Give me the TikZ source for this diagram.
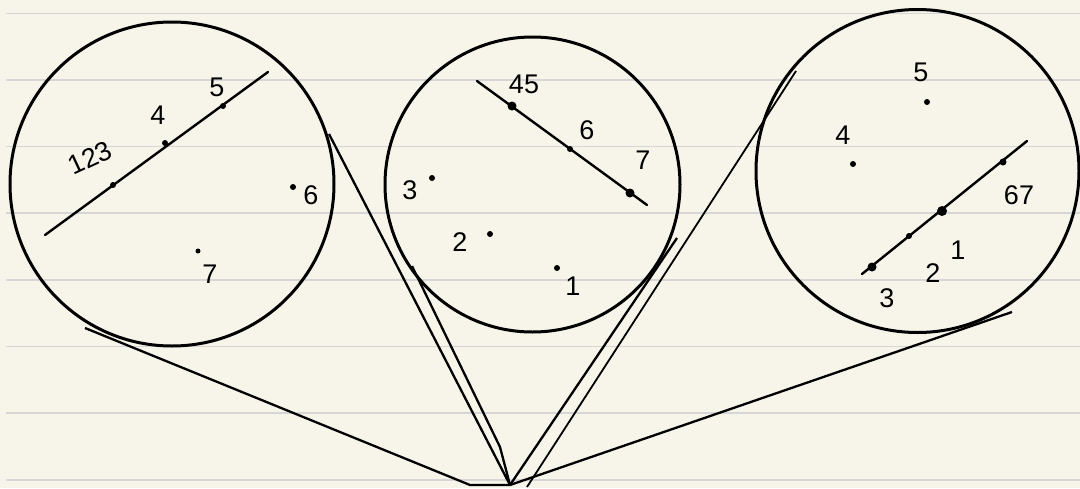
\documentclass[tikz,border=0pt]{standalone}
\usepackage{fontspec}
\setmainfont{Liberation Sans}
\definecolor{paper}{RGB}{247,245,234}
\definecolor{rule}{RGB}{214,214,214}
\begin{document}
\begin{tikzpicture}[x=1pt,y=-1pt,
  ring/.style={circle,draw=black,line width=3pt,inner sep=0pt},
  dot/.style={circle,fill=black,inner sep=0pt,minimum size=6pt},
  bigdot/.style={circle,fill=black,inner sep=0pt,minimum size=9pt},
  lbl/.style={inner sep=0pt,font=\fontsize{27}{29}\selectfont},
  chord/.style={draw=black,line width=2.4pt,line cap=round},
  conn/.style={draw=black,line width=2.3pt,line join=round},
  thinconn/.style={draw=black,line width=1.8pt},
  ruling/.style={draw=rule,line width=1.8pt}]
\useasboundingbox (0,0) rectangle (1080,488);
\fill[paper] (0,0) rectangle (1080,488);
\foreach \y in {13.5,80,146.5,213,280,346.5,413,480}
  \draw[ruling] (6,\y) -- (1080,\y);

% circles
\node[ring,minimum size=324pt] (c1) at (172,184) {};
\node[ring,minimum size=295pt] (c2) at (532.5,184.5) {};
\node[ring,minimum size=323pt] (c3) at (917.5,171) {};

% circle 1
\coordinate (a1) at (45,235);
\coordinate (b1) at (268,72);
\draw[chord] (a1) -- (b1);
\node[dot] (p13) at (113,185) {};
\node[dot] (p14) at (165,143) {};
\node[dot] (p15) at (223,106) {};
\node[dot] (p16) at (293,187) {};
\node[dot,minimum size=5pt] (p17) at (198,251) {};
\node[lbl,rotate=25] (t13) at (90,158) {123};
\node[lbl] (t14) at (158,115) {4};
\node[lbl] (t15) at (217,87) {5};
\node[lbl] (t16) at (311,195) {6};
\node[lbl] (t17) at (210,274) {7};

% circle 2
\coordinate (a2) at (477,81);
\coordinate (b2) at (647,205);
\draw[chord] (a2) -- (b2);
\node[bigdot] (p245) at (512,106) {};
\node[dot] (p26) at (570,149) {};
\node[bigdot] (p27) at (630,193) {};
\node[dot] (p23) at (432,178) {};
\node[dot] (p22) at (490,234) {};
\node[dot] (p21) at (557,268) {};
\node[lbl] (t245) at (524,84) {45};
\node[lbl] (t26) at (587,130) {6};
\node[lbl] (t27) at (643,160) {7};
\node[lbl] (t23) at (410,190) {3};
\node[lbl] (t22) at (460,242) {2};
\node[lbl] (t21) at (573,286) {1};

% circle 3
\coordinate (a3) at (862,274);
\coordinate (b3) at (1027,141);
\draw[chord] (a3) -- (b3);
\node[bigdot] (p33) at (872,267) {};
\node[dot] (p32) at (909,236) {};
\node[bigdot,minimum size=10pt] (p31) at (942,211) {};
\node[dot,minimum size=7pt] (p367) at (1003,162) {};
\node[dot] (p35) at (927,102) {};
\node[dot] (p34) at (853,164) {};
\node[lbl] (t35) at (921,72) {5};
\node[lbl] (t34) at (843,135) {4};
\node[lbl] (t367) at (1019,195) {67};
\node[lbl] (t31) at (958,250) {1};
\node[lbl] (t32) at (933,273) {2};
\node[lbl] (t33) at (887,298) {3};

% connectors to the apex
\coordinate (apex) at (510,485);
\coordinate (s1) at (85,328);
\coordinate (k1) at (470,485);
\coordinate (s2) at (329,134);
\coordinate (s3) at (412,266);
\coordinate (k3) at (500,447);
\coordinate (s4) at (677,238);
\coordinate (s5) at (796,71);
\coordinate (e5) at (527,487);
\coordinate (s6) at (1012,312);
\draw[conn] (s1) -- (k1) -- (apex);
\draw[conn] (s2) -- (apex);
\draw[conn] (s3) -- (k3) -- (apex);
\draw[conn] (s4) -- (apex);
\draw[thinconn] (s5) -- (e5);
\draw[conn] (s6) -- (apex);
\end{tikzpicture}
\end{document}
